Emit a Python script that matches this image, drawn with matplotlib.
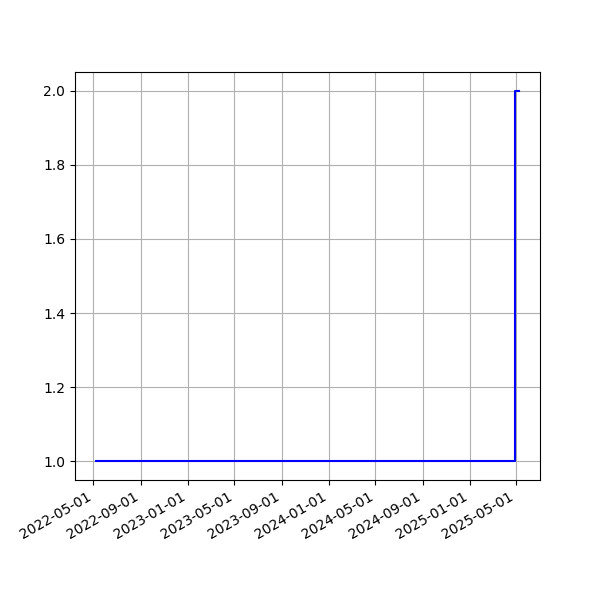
import matplotlib
matplotlib.use("Agg")
import matplotlib.pyplot as plt
import matplotlib.dates as mdates
import pandas as pd

dates = ["2022-05-08", "2025-04-28", "2025-05-08"]
values = [1, 2, 2]

x = pd.to_datetime(dates)
fig, ax = plt.subplots(figsize=(6, 6), dpi=100)
ax.plot(x, values, color="blue", drawstyle="steps-post")
ax.grid(True)
ax.xaxis.set_major_locator(mdates.MonthLocator(bymonth=[1, 5, 9]))
ax.xaxis.set_major_formatter(mdates.DateFormatter("%Y-%m-%d"))
fig.autofmt_xdate()
fig.savefig("out.png")
